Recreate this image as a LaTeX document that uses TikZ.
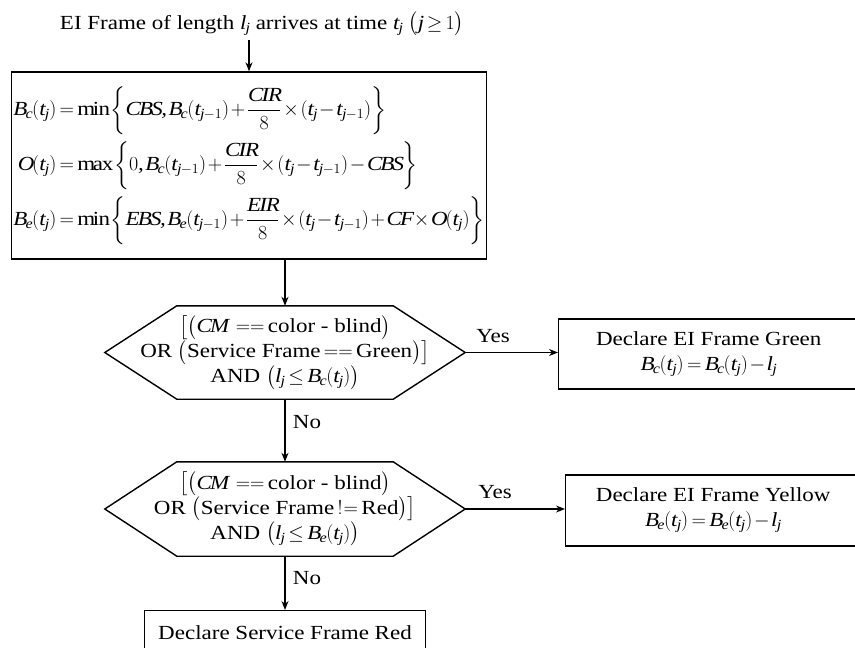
\RequirePackage{fix-cm}
\documentclass[tikz,border=0pt]{standalone}
\usepackage{amsmath}
\usepackage{amssymb}
\usepackage{fontspec}
\setmainfont{Liberation Serif}[FakeStretch=1.15]
\DeclareSymbolFont{letters}{TU}{\rmdefault}{m}{it}
\DeclareSymbolFont{operators}{TU}{\rmdefault}{m}{n}
\mathcode`\,="612C
\thickmuskip=3mu plus 2mu
\medmuskip=1.5mu plus 1mu
\thinmuskip=2mu
\usetikzlibrary{arrows.meta, positioning}
\tikzset{>=Stealth}
\tikzset{
  box/.style={draw, line width=1.4pt, align=center, inner sep=2pt},
  hexa/.style={align=center, minimum width=360pt, inner sep=0pt},
  flow/.style={->, line width=1.2pt},
}
\newcommand{\pp}[1]{(#1)}
\newcommand{\hexpath}[1]{%
  \draw[line width=1.4pt] (#1.west) -- ([xshift=72pt]#1.north west) -- ([xshift=-72pt]#1.north east)
    -- (#1.east) -- ([xshift=-72pt]#1.south east) -- ([xshift=72pt]#1.south west) -- cycle;}

\begin{document}
\begin{tikzpicture}[x=1pt, y=-1pt, >={Stealth[length=9pt, width=7pt]}, font=\fontsize{20}{25}\selectfont]
    \useasboundingbox (0,0) rectangle (855,648);
    \clip (0,0) rectangle (855,648);
    \node (title) at (262,24) {EI Frame of length $l_j$ arrives at time $t_j\ \bigl(j\ge 1\bigr)$};
    \node[box, minimum width=472pt, minimum height=187pt] (rate) at (249,165.5) {$\begin{aligned}
        B_c\pp{t_j} &= \min\left\{CBS, B_c\pp{t_{j-1}} + \frac{CIR}{8}\times\pp{t_j - t_{j-1}}\right\}\\[3pt]
        O\pp{t_j} &= \max\left\{0, B_c\pp{t_{j-1}} + \frac{CIR}{8}\times\pp{t_j - t_{j-1}} - CBS\right\}\\[3pt]
        B_e\pp{t_j} &= \min\left\{EBS, B_e\pp{t_{j-1}} + \frac{EIR}{8}\times\pp{t_j - t_{j-1}} + CF\times O\pp{t_j}\right\}
      \end{aligned}$};
    \node[hexa, minimum height=93pt] (hexc) at (285,352.5) {$\bigl[\bigl(CM\ == \text{color - blind}\bigr)$\\
      OR $\bigl(\text{Service Frame} == \text{Green}\bigr)\bigr]$\\
      AND $\bigl(l_j \le B_c\pp{t_j}\bigr)$};
    \hexpath{hexc}
    \node[hexa, minimum height=94pt] (hexe) at (285,509) {$\bigl[\bigl(CM\ == \text{color - blind}\bigr)$\\
      OR $\bigl(\text{Service Frame}\mathrel{!\!=}\text{Red}\bigr)\bigr]$\\
      AND $\bigl(l_j \le B_e\pp{t_j}\bigr)$};
    \hexpath{hexe}
    \node[box, anchor=west, minimum width=300pt, minimum height=70pt] (green) at (558,354)
      {Declare EI Frame Green\\ $B_c\pp{t_j} = B_c\pp{t_j} - l_j$};
    \node[box, anchor=west, minimum width=295pt, minimum height=71pt] (yellow) at (565,510.5)
      {Declare EI Frame Yellow\\ $B_e\pp{t_j} = B_e\pp{t_j} - l_j$};
    \node[box, anchor=north, minimum width=281pt, minimum height=44pt] (red) at (285,610) {Declare Service Frame Red};
    \draw[flow] (title.south -| rate.north) -- (rate.north);
    \draw[flow] (hexc.north |- rate.south) -- (hexc.north);
    \draw[flow] (hexc.east) -- node[pos=0.3, above=6pt] {Yes} (hexc.east -| green.west);
    \draw[flow] (hexc.south) -- node[pos=0.37, right=4pt] {No} (hexe.north);
    \draw[flow] (hexe.east) -- node[pos=0.3, above=6pt] {Yes} (hexe.east -| yellow.west);
    \draw[flow] (hexe.south) -- node[pos=0.4, right=4pt] {No} (red.north);
\end{tikzpicture}
\end{document}
